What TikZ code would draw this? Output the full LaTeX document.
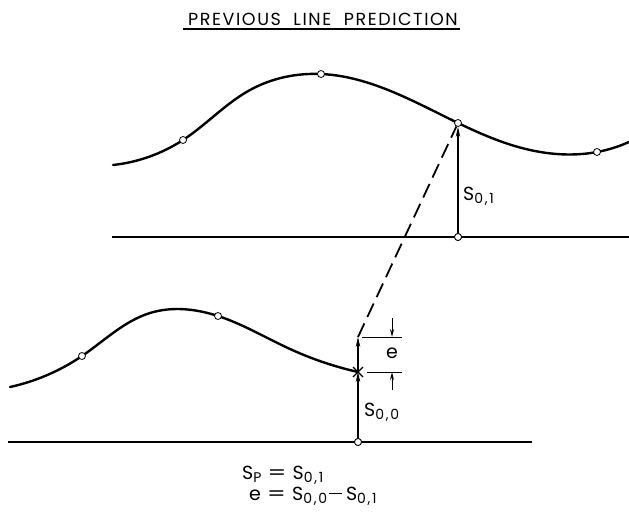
\documentclass[tikz,border=0pt]{standalone}
\usepackage{fontspec}
\setmainfont{Poppins}
\usetikzlibrary{arrows.meta,hobby}
\newcommand{\sbs}[1]{\raisebox{-0.3ex}{\fontsize{14}{14}\selectfont\addfontfeatures{LetterSpace=12}#1}}
\newcommand{\mns}{\rule[0.3em]{13pt}{1.1pt}}
\newcommand{\eqs}{\hspace{6pt}\scalebox{1.4}[1]{=}\hspace{6pt}}
\tikzset{
  curve/.style={line width=2.4pt, line cap=round},
  base/.style={line width=1.4pt},
  dot/.style={circle, draw, fill=white, inner sep=0pt, minimum size=7pt, line width=0.8pt},
  vec/.style={line width=1.1pt, -{Stealth[length=10pt,width=4.5pt]}},
  small/.style={line width=1pt, -{Stealth[length=8pt,width=4pt]}},
  thin/.style={line width=1pt},
  lbl/.style={font=\fontsize{19}{19}\selectfont, inner sep=0pt},
}
\begin{document}
\begin{tikzpicture}[x=1pt,y=-1pt]
\useasboundingbox (0,0) rectangle (629,514);
% title
\node[inner sep=0pt, font=\fontsize{17.5}{17.5}\selectfont\addfontfeatures{LetterSpace=9}] (title) at (323,19) {PREVIOUS\ \ LINE\ \ PREDICTION};
\coordinate (ul1) at (183,29);
\coordinate (ul2) at (460,29);
\draw[line width=1.2pt] (ul1) -- (ul2);
% top curve
\draw[curve, use Hobby shortcut] (113,165) .. (183,140) .. (250,90) .. (321,74) .. (400,95) .. (458,123) .. (530,150) .. (597,152) .. (629,142);
% top baseline
\coordinate (tl1) at (112,237);
\coordinate (tl2) at (629,237);
\draw[base] (tl1) -- (tl2);
% bottom curve
\draw[curve, use Hobby shortcut] (10,387) .. (82,356) .. (150,313) .. (218,316) .. (290,349) .. (358,372);
% bottom baseline
\coordinate (bl1) at (8,442);
\coordinate (bl2) at (532,442);
\draw[base] (bl1) -- (bl2);
% points
\node[dot] (t1) at (183,140) {};
\node[dot] (t2) at (321,74) {};
\node[dot] (t3) at (458,123) {};
\node[dot] (t4) at (597,152) {};
\node[dot] (b1) at (82,356) {};
\node[dot] (b2) at (218,316) {};
\coordinate (x) at (358,372);
\coordinate (etop) at (358,337);
% vectors
\node[dot] (tb) at (458,237) {};
\node[dot] (bb) at (358,442) {};
\draw[vec] (tb) -- (t3);
\draw[vec] (bb) -- (x);
\draw[vec] (x) -- (etop);
\draw[line width=1.8pt, dash pattern=on 15pt off 7pt] (etop) -- (t3);
\node[dot] at (458,237) {};
\node[dot] at (358,442) {};
% cross
\coordinate (xa) at (353,367);
\coordinate (xb) at (363,377);
\coordinate (xc) at (363,367);
\coordinate (xd) at (353,377);
\draw[line width=1.1pt] (xa) -- (xb) (xc) -- (xd);
% e dimension
\coordinate (e1l) at (362,337);
\coordinate (e1r) at (402,337);
\coordinate (e2l) at (367,372);
\coordinate (e2r) at (402,372);
\draw[thin] (e1l) -- (e1r);
\draw[thin] (e2l) -- (e2r);
\coordinate (ea1) at (392,318);
\coordinate (ea1e) at (392,337);
\coordinate (ea2) at (392,390);
\coordinate (ea2e) at (392,372);
\draw[small] (ea1) -- (ea1e);
\draw[small] (ea2) -- (ea2e);
\node[lbl] (elab) at (392,353) {e};
% labels
\node[lbl, anchor=west] (s01) at (463,196) {S\sbs{0,1}};
\node[lbl, anchor=west] (s00) at (364,412) {S\sbs{0,0}};
% equations
\node[lbl, anchor=base west] (eq1) at (242,479) {S\sbs{P}\eqs S\sbs{0,1}};
\node[lbl, anchor=base west] (eq2) at (249,500) {e\eqs S\sbs{0,0}\hspace{2pt}\mns\hspace{4pt}S\sbs{0,1}};
\end{tikzpicture}
\end{document}
